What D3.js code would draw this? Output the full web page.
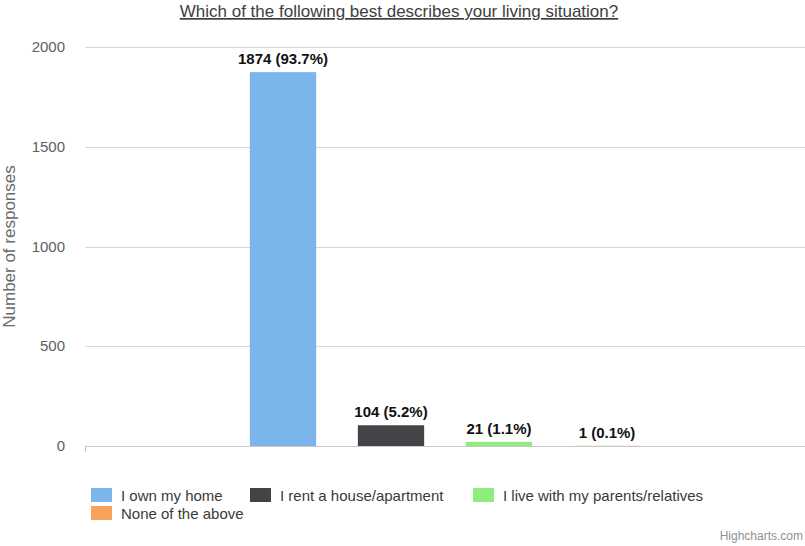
<!DOCTYPE html>
<html>
<head>
<meta charset="utf-8">
<script src="https://cdn.jsdelivr.net/npm/d3@7/dist/d3.min.js"></script>
<style>
  html, body { margin: 0; padding: 0; background: #fff; }
  svg { display: block; font-family: "Liberation Sans", Arial, sans-serif; }
</style>
</head>
<body>
<svg id="chart" width="805" height="546"></svg>
<script>
// Survey answers and counts
const answers = ["I own my home", "I rent a house/apartment", "I live with my parents/relatives", "None of the above"];
const counts = [1874, 104, 21, 1];
const shares = [93.7, 5.2, 1.1, 0.1];
const colors = ["#7cb5ec", "#434348", "#90ed7d", "#f7a35c"];
const yTicks = [0, 500, 1000, 1500, 2000];

const titleText = "Which of the following best describes your living situation?";
const yTitle = "Number of responses";

const plot = { left: 85, right: 805, top: 47, bottom: 446 };

const svg = d3.select("#chart");

const y = d3.scaleLinear().domain([0, 2000]).range([plot.bottom, plot.top]);

// One category holding four grouped series
const xGroup = d3.scaleBand().domain(["all"]).range([plot.left, plot.right]).paddingOuter(1 / 3);
const g0 = xGroup("all");
const xSeries = d3.scaleBand()
  .domain(answers)
  .range([g0, g0 + xGroup.bandwidth()])
  .paddingInner(0.386)
  .paddingOuter(0.193);

// Title
svg.append("text")
  .attr("x", 399).attr("y", 17)
  .attr("text-anchor", "middle")
  .attr("font-size", 17)
  .attr("fill", "#3e3e3e")
  .attr("text-decoration", "underline")
  .text(titleText);

// Gridlines
svg.append("g")
  .selectAll("line")
  .data(yTicks.filter(t => t > 0))
  .join("line")
  .attr("x1", plot.left).attr("x2", plot.right)
  .attr("y1", d => Math.round(y(d)) + 0.5).attr("y2", d => Math.round(y(d)) + 0.5)
  .attr("stroke", "#d8d8d8").attr("stroke-width", 1);

// Y axis tick labels
const yAxis = d3.axisLeft(y).tickValues(yTicks).tickFormat(d3.format("d")).tickSize(0).tickPadding(20);
const gAxis = svg.append("g").attr("transform", `translate(${plot.left},0)`).call(yAxis);
gAxis.select(".domain").remove();
gAxis.selectAll("text")
  .attr("dy", "0.3em")
  .attr("font-size", 15)
  .attr("fill", "#606060")
  .attr("font-family", "Liberation Sans, Arial, sans-serif");

// X axis line with a single tick mark
svg.append("line")
  .attr("x1", plot.left).attr("x2", plot.right)
  .attr("y1", plot.bottom + 0.5).attr("y2", plot.bottom + 0.5)
  .attr("stroke", "#c8c8c8");
svg.append("line")
  .attr("x1", plot.left + 0.5).attr("x2", plot.left + 0.5)
  .attr("y1", plot.bottom).attr("y2", plot.bottom + 6)
  .attr("stroke", "#c8c8c8");

// Y axis title
svg.append("text")
  .attr("transform", `translate(15,${(plot.top + plot.bottom) / 2}) rotate(-90)`)
  .attr("text-anchor", "middle")
  .attr("font-size", 17)
  .attr("fill", "#6a6a6a")
  .text(yTitle);

// Bars
const data = answers.map((a, i) => ({ a, v: counts[i], p: shares[i], c: colors[i] }));
svg.append("g")
  .selectAll("rect")
  .data(data)
  .join("rect")
  .attr("x", d => xSeries(d.a))
  .attr("width", xSeries.bandwidth())
  .attr("y", d => y(d.v))
  .attr("height", d => plot.bottom - y(d.v))
  .attr("fill", d => d.c);

// Value labels
svg.append("g")
  .selectAll("text")
  .data(data)
  .join("text")
  .attr("x", d => xSeries(d.a) + xSeries.bandwidth() / 2)
  .attr("y", d => y(d.v) - 8)
  .attr("text-anchor", "middle")
  .attr("font-size", 15)
  .attr("font-weight", "bold")
  .attr("fill", "#111")
  .text(d => `${d.v} (${d.p}%)`);

// Legend
const legendPos = [[91, 488], [250, 488], [473, 488], [91, 506]];
const lg = svg.append("g")
  .selectAll("g")
  .data(data)
  .join("g")
  .attr("transform", (d, i) => `translate(${legendPos[i][0]},${legendPos[i][1]})`);
lg.append("rect").attr("width", 21).attr("height", 14).attr("fill", d => d.c);
lg.append("text")
  .attr("x", 30).attr("y", 13)
  .attr("font-size", 15)
  .attr("fill", "#3a3a3a")
  .text(d => d.a);

// Credits
svg.append("text")
  .attr("x", 803).attr("y", 540)
  .attr("text-anchor", "end")
  .attr("font-size", 12)
  .attr("fill", "#909090")
  .text("Highcharts.com");
</script>
</body>
</html>
